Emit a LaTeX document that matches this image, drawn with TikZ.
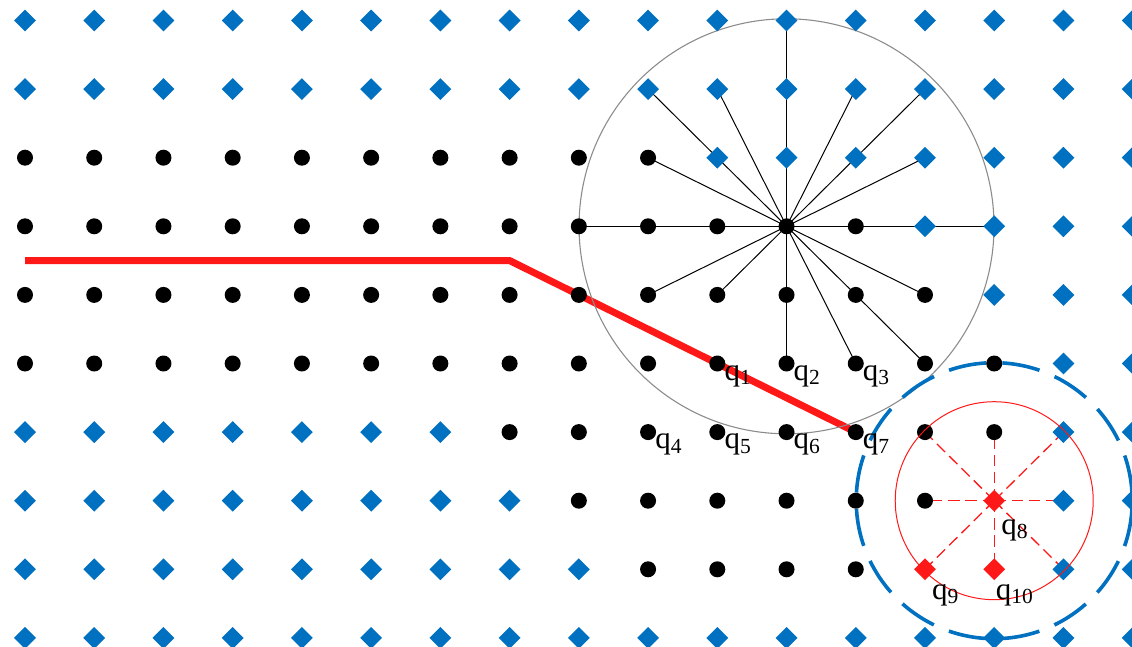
\documentclass[tikz,border=0pt]{standalone}
\usepackage{fontspec}
\setmainfont{Liberation Serif}
\usetikzlibrary{shapes.geometric,backgrounds}
\definecolor{myblue}{RGB}{0,112,192}
\definecolor{myred}{RGB}{255,24,24}
\definecolor{mygray}{RGB}{140,140,140}
\newcommand\qlab[1]{q\raisebox{-4.5pt}{\fontsize{21.5pt}{22pt}\selectfont #1}}
\begin{document}
\begin{tikzpicture}[x=1pt,y=-1pt,
  dotn/.style={circle,fill=black,inner sep=0pt,minimum size=16pt},
  bdia/.style={diamond,fill=myblue,inner sep=0pt,minimum width=22pt,minimum height=22pt},
  rdia/.style={diamond,fill=myred,inner sep=0pt,minimum width=22pt,minimum height=22pt},
  spoke/.style={draw=black,line width=1pt},
  route/.style={draw=myred,line width=7pt},
  rdash/.style={draw=myred,line width=1.3pt,dash pattern=on 11.5pt off 5.8pt},
  lab/.style={anchor=base west,inner sep=0pt,font=\fontsize{31pt}{31pt}\selectfont}]
\useasboundingbox (0,0) rectangle (1132,647);
% grid of markers
\foreach \j/\a/\b in {0/99/-1,1/99/-1,2/0/9,3/0/12,4/0/13,5/0/14,6/7/14,7/8/13,8/9/12,9/99/-1}{
  \foreach \i in {0,...,16}{
    \pgfmathsetmacro\xx{25+69.23*\i}
    \pgfmathsetmacro\yy{20.5+68.6*\j}
    \pgfmathtruncatemacro\isblack{((\i>=\a)&&(\i<=\b))?1:0}
    \pgfmathtruncatemacro\isred{(((\j==7)&&(\i==14))||((\j==8)&&((\i==13)||(\i==14))))?1:0}
    \ifnum\isred=1
      \node[rdia] (n-\i-\j) at (\xx,\yy) {};
    \else\ifnum\isblack=1
      \node[dotn] (n-\i-\j) at (\xx,\yy) {};
    \else
      \node[bdia] (n-\i-\j) at (\xx,\yy) {};
    \fi\fi
  }
}
\coordinate (rs) at (25,260.6);
\coordinate (rb) at (509.61,260.6);
\begin{pgfonlayer}{background}
  \draw[route] (rs) -- (rb) -- (n-12-6.center);
  \foreach \t in {11-0,9-1,10-1,12-1,13-1,9-2,13-2,8-3,14-3,9-4,10-4,13-4,11-5,12-5,13-5}
    \draw[spoke] (n-11-3.center) -- (n-\t.center);
  \draw[mygray,line width=1.1pt] (n-11-3.center) circle[radius=207.5pt];
  \draw[myblue,line width=3.6pt,dash pattern=on 37.9pt off 16.29pt,dash phase=46.05pt]
    (n-14-7.center) circle[radius=138pt];
  \foreach \t in {13-6,14-6,15-6,13-7,15-7,13-8,14-8,15-8}
    \draw[rdash] (n-14-7.center) -- (n-\t.center);
\end{pgfonlayer}
\draw[myred,line width=1pt] (n-14-7.center) circle[radius=99pt];
% labels
\node[lab] (q1) at ([shift={(7,16.5)}]n-10-5.center) {\qlab{1}};
\node[lab] (q2) at ([shift={(7,16.5)}]n-11-5.center) {\qlab{2}};
\node[lab] (q3) at ([shift={(7,16.5)}]n-12-5.center) {\qlab{3}};
\node[lab] (q4) at ([shift={(7,16.5)}]n-9-6.center) {\qlab{4}};
\node[lab] (q5) at ([shift={(7,16.5)}]n-10-6.center) {\qlab{5}};
\node[lab] (q6) at ([shift={(7,16.5)}]n-11-6.center) {\qlab{6}};
\node[lab] (q7) at ([shift={(7,16.5)}]n-12-6.center) {\qlab{7}};
\node[lab] (q8) at ([shift={(7,33.6)}]n-14-7.center) {\qlab{8}};
\node[lab] (q9) at ([shift={(7,30)}]n-13-8.center) {\qlab{9}};
\node[lab] (q10) at ([shift={(1.5,30)}]n-14-8.center) {\qlab{10}};
\end{tikzpicture}
\end{document}
